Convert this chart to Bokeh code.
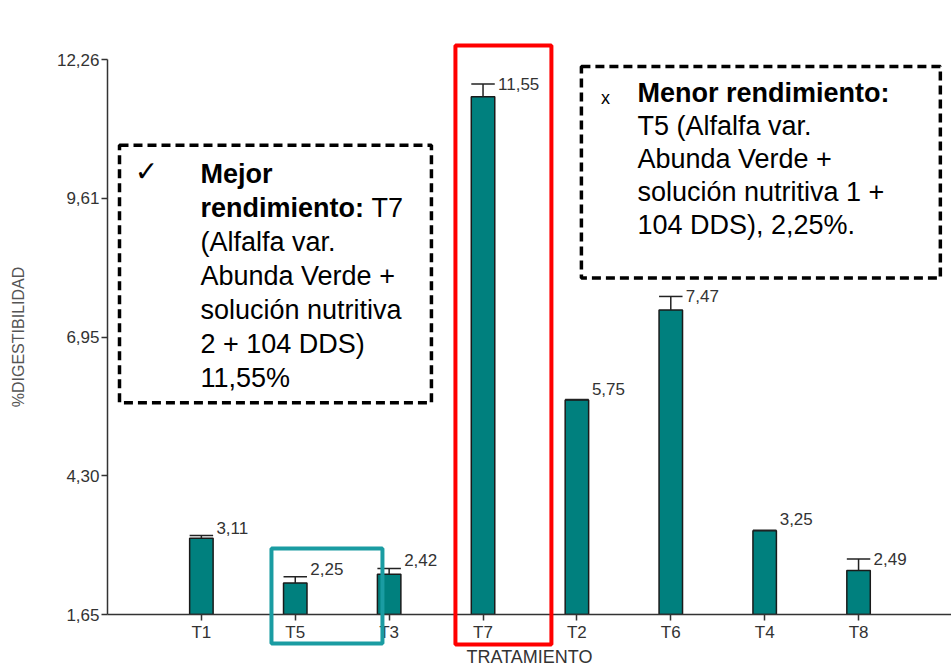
from bokeh.plotting import figure
from bokeh.models import FixedTicker, Range1d
from bokeh.core.properties import value
from bokeh.embed import file_html
from bokeh.resources import INLINE

# ---- data ----
tratamientos = ["T1", "T5", "T3", "T7", "T2", "T6", "T4", "T8"]
medias = [3.11, 2.25, 2.42, 11.55, 5.75, 7.47, 3.25, 2.49]
errores = [0.05, 0.12, 0.11, 0.24, 0.01, 0.26, 0.01, 0.22]
etiquetas = ["3,11", "2,25", "2,42", "11,55", "5,75", "7,47", "3,25", "2,49"]
y_ticks = [1.65, 4.30, 6.95, 9.61, 12.26]
y_tick_labels = ["1,65", "4,30", "6,95", "9,61", "12,26"]

FONT = "Liberation Sans"
pos = list(range(1, len(tratamientos) + 1))

p = figure(width=951, height=669, x_range=Range1d(0, 8.99), y_range=Range1d(1.65, 12.26),
           output_backend="svg", toolbar_location=None,
           min_border_left=107, min_border_right=0, min_border_top=59, min_border_bottom=54)
p.outline_line_color = None
p.grid.visible = False
p.background_fill_color = "white"

# helpers: convert reference-picture pixel positions of the annotation boxes into data space
def dx(sx):
    return (sx - 107) / 93.9

def dy(sy):
    return 1.65 + (615 - sy) / 52.4

# bars
p.vbar(x=pos, top=medias, bottom=1.65, width=0.25, fill_color="#00807E",
       line_color="#1a1a1a", line_width=1.5)

# error bars
tops = [m + e for m, e in zip(medias, errores)]
p.segment(x0=pos, y0=medias, x1=pos, y1=tops, line_color="#222222", line_width=1.5)
p.segment(x0=[x - 0.125 for x in pos], y0=tops, x1=[x + 0.125 for x in pos], y1=tops,
          line_color="#222222", line_width=1.5)

# value labels
offs = [-11 if e < 0.05 else (-8 if e < 0.2 else 0) for e in errores]
p.text(x=pos, y=tops, text=etiquetas, x_offset=15, y_offset=offs, text_align="left",
       text_baseline="middle", text_font=value(FONT), text_font_size="17px",
       text_color="#333333")

# dashed boxes
p.quad(left=[dx(119), dx(581)], right=[dx(431), dx(940)], top=[dy(145), dy(66)],
       bottom=[dy(403), dy(278)], fill_alpha=0, line_color="black", line_width=3.5,
       line_dash="9 5")

# highlight rectangles
p.quad(left=[dx(455)], right=[dx(551)], top=[dy(45)], bottom=[dy(645)], fill_alpha=0,
       line_color="#FF0000", line_width=4, level="overlay")
p.quad(left=[dx(271)], right=[dx(382)], top=[dy(549)], bottom=[dy(644)], fill_alpha=0,
       line_color="#1A9CA2", line_width=4, level="overlay")

# left box text
left_lines_bold = ["Mejor", "rendimiento:"]
left_lines = ["(Alfalfa var.", "Abunda Verde +", "solución nutritiva", "2 + 104 DDS)", "11,55%"]
ly = [174 + 34 * i for i in range(7)]
p.text(x=[dx(146)], y=[dy(171)], text=["✓"], text_align="center", text_baseline="middle",
       text_font=value("DejaVu Sans"), text_font_size="28px", text_color="black")
p.text(x=[dx(200)] * 2, y=[dy(v) for v in ly[:2]], text=left_lines_bold, text_align="left",
       text_baseline="middle", text_font=value(FONT), text_font_size="27px",
       text_font_style="bold", text_color="black")
p.text(x=[dx(371)], y=[dy(ly[1])], text=["T7"], text_align="left",
       text_baseline="middle", text_font=value(FONT), text_font_size="27px", text_color="black")
p.text(x=[dx(200)] * 5, y=[dy(v) for v in ly[2:]], text=left_lines, text_align="left",
       text_baseline="middle", text_font=value(FONT), text_font_size="27px", text_color="black")

# right box text
ry = [93 + 33 * i for i in range(5)]
p.text(x=[dx(605)], y=[dy(98)], text=["x"], text_align="center", text_baseline="middle",
       text_font=value(FONT), text_font_size="18px", text_color="black")
p.text(x=[dx(637)], y=[dy(ry[0])], text=["Menor rendimiento:"], text_align="left",
       text_baseline="middle", text_font=value(FONT), text_font_size="27px",
       text_font_style="bold", text_color="black")
right_lines = ["T5 (Alfalfa var.", "Abunda Verde +", "solución nutritiva 1 +", "104 DDS), 2,25%."]
p.text(x=[dx(637)] * 4, y=[dy(v) for v in ry[1:]], text=right_lines, text_align="left",
       text_baseline="middle", text_font=value(FONT), text_font_size="27px", text_color="black")

# axes
xa = p.xaxis[0]
xa.ticker = FixedTicker(ticks=pos)
xa.major_label_overrides = {i: t for i, t in zip(pos, tratamientos)}
xa.minor_tick_line_color = None
xa.major_tick_in = 0
xa.major_tick_out = 6
xa.axis_line_color = "#333333"
xa.axis_line_width = 1.5
xa.major_tick_line_color = "#333333"
xa.major_tick_line_width = 1.5
xa.major_label_text_font = FONT
xa.major_label_text_font_size = "17px"
xa.major_label_text_color = "#333333"
xa.major_label_standoff = 2
xa.axis_label = "TRATAMIENTO"
xa.axis_label_text_font = FONT
xa.axis_label_text_font_size = "18px"
xa.axis_label_text_font_style = "normal"
xa.axis_label_text_color = "#333333"
xa.axis_label_standoff = 2

ya = p.yaxis[0]
ya.ticker = FixedTicker(ticks=y_ticks)
ya.major_label_overrides = {t: l for t, l in zip(y_ticks, y_tick_labels)}
ya.minor_tick_line_color = None
ya.major_tick_in = 0
ya.major_tick_out = 6
ya.axis_line_color = "#333333"
ya.axis_line_width = 1.5
ya.major_tick_line_color = "#333333"
ya.major_tick_line_width = 1.5
ya.major_label_text_font = FONT
ya.major_label_text_font_size = "17px"
ya.major_label_text_color = "#333333"
ya.major_label_standoff = 2
ya.axis_label = "%DIGESTIBILIDAD"
ya.axis_label_text_font = FONT
ya.axis_label_text_font_size = "16px"
ya.axis_label_text_font_style = "normal"
ya.axis_label_text_color = "#555555"
ya.axis_label_standoff = 27

open("out.html", "w").write(file_html(p, INLINE))
